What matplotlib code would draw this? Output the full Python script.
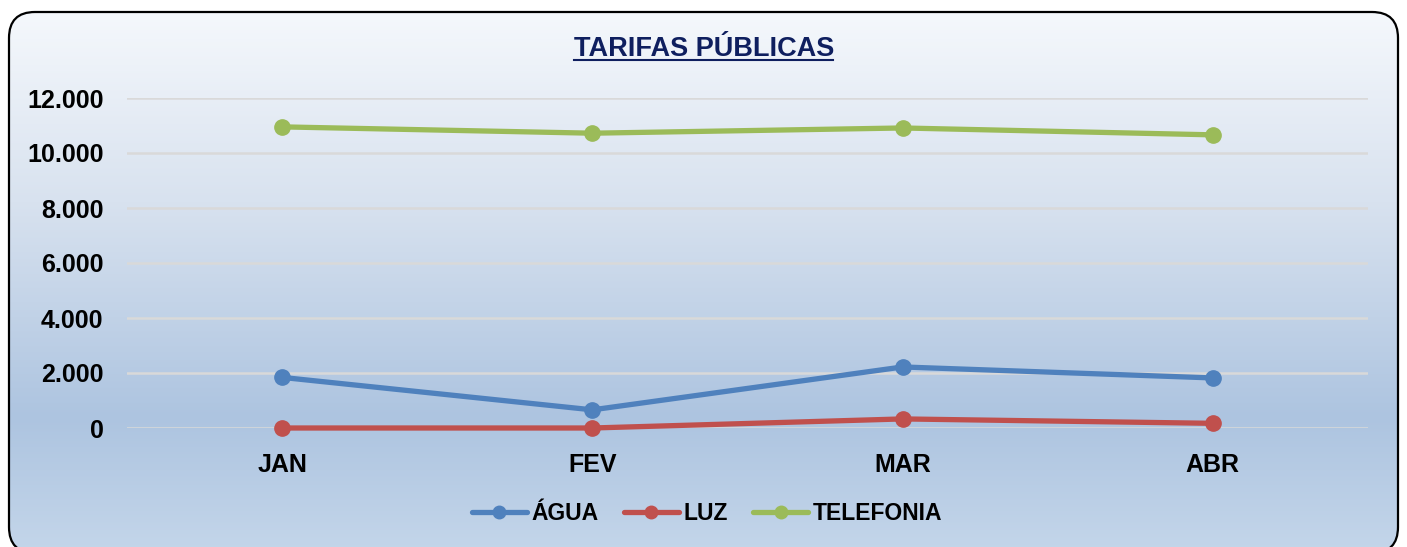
import matplotlib.pyplot as plt
import numpy as np
from matplotlib.patches import FancyBboxPatch
from matplotlib.colors import LinearSegmentedColormap
from matplotlib.ticker import FuncFormatter

plt.rcParams['font.family'] = ['Liberation Sans', 'DejaVu Sans']
plt.rcParams['font.weight'] = 'bold'

meses = ['JAN', 'FEV', 'MAR', 'ABR']
agua = [1840, 660, 2220, 1820]
luz = [0, 0, 330, 170]
telefonia = [10950, 10720, 10910, 10660]

W, H = 1407, 547
fig = plt.figure(figsize=(W / 100, H / 100), dpi=100)
fig.patch.set_facecolor('white')

# background panel with rounded corners and a vertical gradient (pixel coords, y up)
bg = fig.add_axes([0, 0, 1, 1], zorder=-1)
bg.set_xlim(0, W)
bg.set_ylim(0, H)
bg.axis('off')
cmap = LinearSegmentedColormap.from_list(
    'fundo', [(0, '#c4d6ea'), (0.25, '#adc4e0'), (0.65, '#d8e2ef'), (1, '#f5f8fc')])
grad = np.linspace(0, 1, 256).reshape(-1, 1)
top, bottom = H - 12, H - 553
box = FancyBboxPatch((9, bottom), 1389, top - bottom, boxstyle='round,pad=0,rounding_size=26',
                     facecolor='none', edgecolor='black', linewidth=1.6)
bg.add_patch(box)
img = bg.imshow(grad, cmap=cmap, aspect='auto', origin='lower',
                extent=[9, 1398, bottom, top])
img.set_clip_path(box)

ax = fig.add_axes([127 / W, (H - 428) / H, 1241 / W, 330 / H])
ax.set_facecolor('none')
x = np.arange(len(meses))
series = [('ÁGUA', agua, '#4f81bd'), ('LUZ', luz, '#c0504d'), ('TELEFONIA', telefonia, '#9bbb59')]
for nome, vals, cor in series:
    ax.plot(x, vals, color=cor, lw=3.8, marker='o', ms=11, label=nome,
            solid_capstyle='round', zorder=3, clip_on=False)

ax.set_xlim(-0.5, 3.5)
ax.set_ylim(0, 12000)
ax.set_yticks(range(0, 12001, 2000))
ax.yaxis.set_major_formatter(FuncFormatter(lambda v, p: f'{int(v):,}'.replace(',', '.')))
ax.set_xticks(x)
ax.set_xticklabels(meses)
ax.grid(axis='y', color='#d9d9d9', lw=1.8, zorder=0)
for s in ax.spines.values():
    s.set_visible(False)
ax.tick_params(length=0, labelsize=18)
ax.tick_params(axis='y', pad=17)
ax.tick_params(axis='x', pad=18)

fig.text(704 / W, 1 - 49 / H, 'TARIFAS PÚBLICAS', ha='center', va='center',
         fontsize=19.5, fontweight='bold', color='#0f1f5f')
bg.plot([574, 833], [H - 60, H - 60], color='#0f1f5f', lw=1.5)

leg = fig.legend(loc='center', bbox_to_anchor=(707 / W, 1 - 514 / H), ncol=3,
                 frameon=False, fontsize=16.5, handlelength=2.4, handletextpad=0.2,
                 columnspacing=1.1)
for h in leg.get_lines():
    h.set_markersize(9)

fig.savefig('out.png', dpi=100)
